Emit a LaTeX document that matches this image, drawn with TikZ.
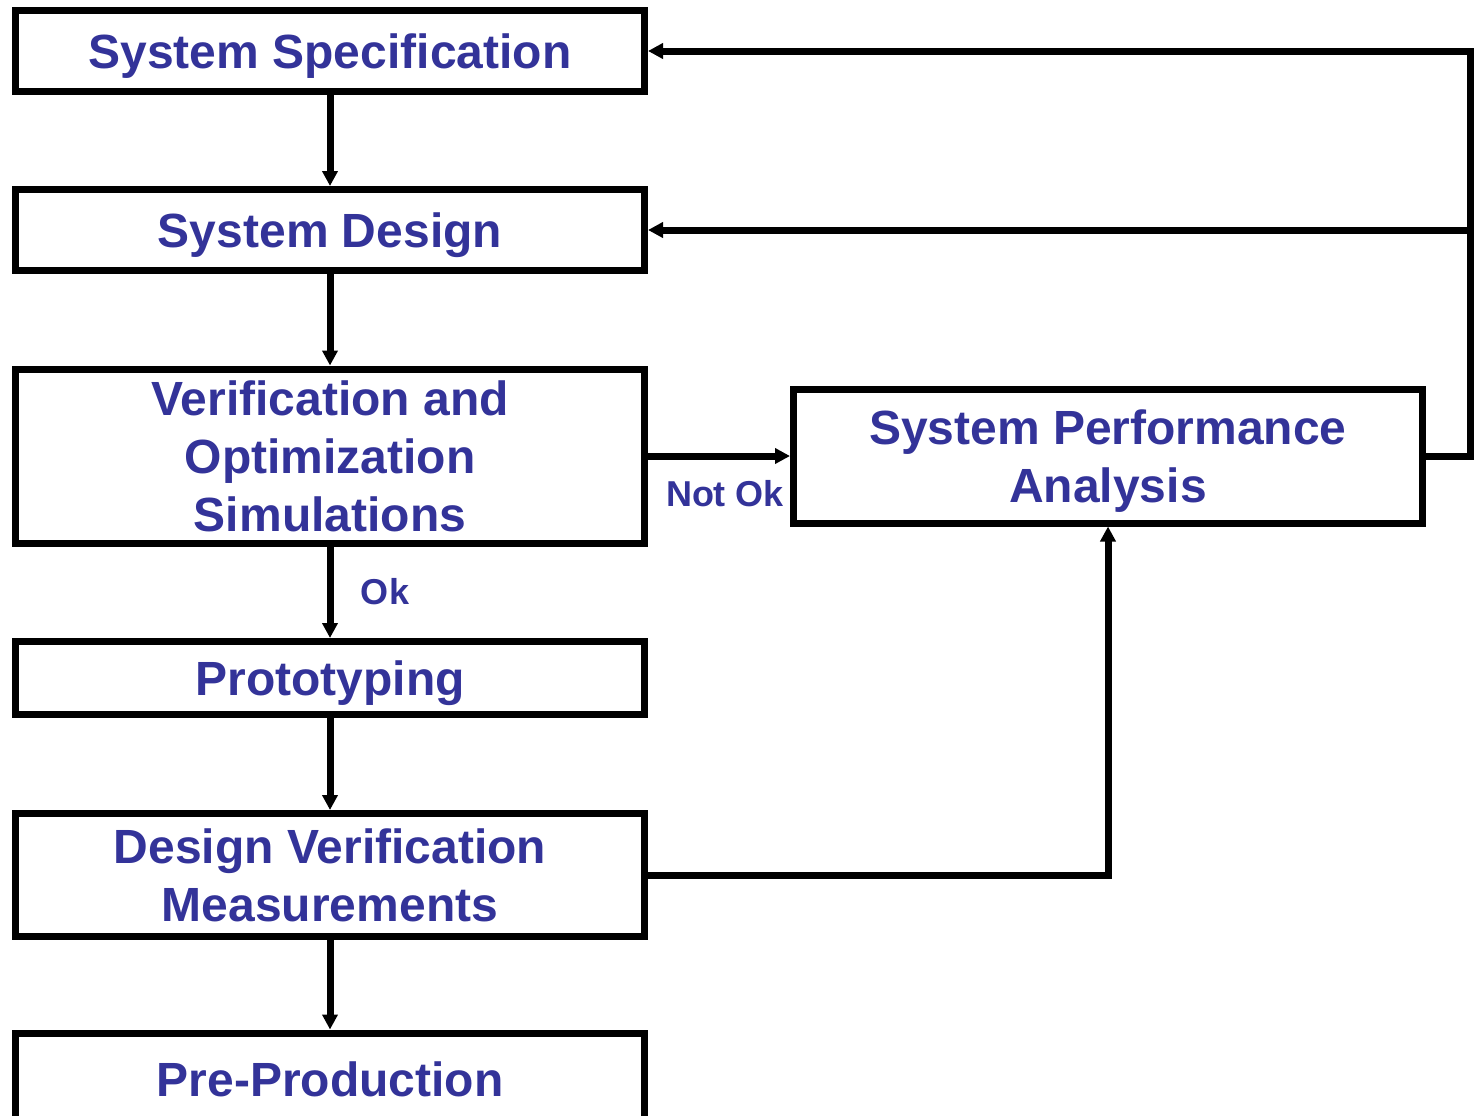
\documentclass[tikz,border=0pt]{standalone}
\usepackage{fontspec}
\setmainfont{Liberation Sans}
\usetikzlibrary{arrows.meta,positioning}
\definecolor{stepblue}{HTML}{333399}

\begin{document}
\begin{tikzpicture}[x=0.5pt,y=-0.5pt,
    block/.style={draw, line width=3.5pt, minimum width=314.5pt, align=center,
        text=stepblue, font=\fontsize{24}{29}\selectfont\bfseries, inner sep=0pt},
    lbl/.style={text=stepblue, font=\fontsize{18}{22}\selectfont\bfseries},
    flow/.style={line width=3.5pt, -{Triangle[length=7.5pt,width=7.5pt]}}]
    \useasboundingbox (0,0) rectangle (1477,1115);
    \node[block, text depth=0pt, minimum height=40.5pt] (spec) at (330,51) {System Specification};
    \node[block, text depth=0pt, minimum height=40.5pt] (design) at (330,230) {System Design};
    \node[block, minimum height=87pt] (verif) at (330,456) {Verification and\\Optimization\\Simulations};
    \node[block, text depth=0pt, minimum height=36.5pt] (proto) at (330,678) {Prototyping};
    \node[block, minimum height=61.5pt] (dvm) at (330,875) {Design Verification\\Measurements};
    \node[block, minimum height=46pt] (preprod) at (330,1079) {Pre-Production};
    \node[block, text depth=0pt, minimum height=67pt] (spa) at (1108,456) {System Performance\\Analysis};
    \coordinate (fbr) at (1470,456);
    \node[lbl] (notok) at (725,494) {Not Ok};
    \node[lbl] (ok) at (385,592) {Ok};
    % main flow
    \draw[flow] (spec) -- (design);
    \draw[flow] (design) -- (verif);
    \draw[flow] (verif) -- (proto);
    \draw[flow] (proto) -- (dvm);
    \draw[flow] (dvm) -- (preprod);
    % loops
    \draw[flow] (verif.east) -- (spa.west);
    \draw[flow] (dvm.east) -| (spa.south);
    \draw[flow] (spa.east) -- (fbr) |- (spec.east);
    \draw[flow] (fbr |- design.east) -- (design.east);
\end{tikzpicture}
\end{document}
